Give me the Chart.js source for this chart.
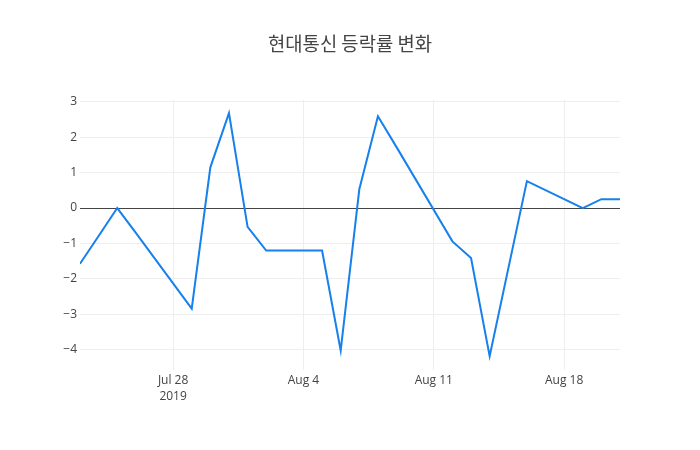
<!DOCTYPE html>
<html>
<head>
<meta charset="utf-8">
<script src="https://cdn.jsdelivr.net/npm/chart.js@4"></script>
<style>
  html, body { margin: 0; padding: 0; background: #fff; }
  #wrap { width: 700px; height: 450px; }
</style>
</head>
<body>
<div id="wrap"><canvas id="c" width="700" height="450"></canvas></div>
<script>
const dates = ['2019-07-23','2019-07-24','2019-07-25','2019-07-26','2019-07-29','2019-07-30','2019-07-31','2019-08-01','2019-08-02','2019-08-05','2019-08-06','2019-08-07','2019-08-08','2019-08-09','2019-08-12','2019-08-13','2019-08-14','2019-08-16','2019-08-19','2019-08-20','2019-08-21'];
const changeRates = [-1.57,-0.79,0.0,-0.70,-2.84,1.15,2.68,-0.53,-1.20,-1.20,-4.02,0.53,2.59,1.72,-0.94,-1.41,-4.18,0.76,0.0,0.25,0.25];
const xTickDates = ['2019-07-28','2019-08-04','2019-08-11','2019-08-18'];
const yTickValues = [-4,-3,-2,-1,0,1,2,3];
const titleText = '현대통신 등락률 변화';

const DAY = 86400000;
const toDay = s => Date.parse(s + 'T00:00:00Z') / DAY;
const MONTHS = ['Jan','Feb','Mar','Apr','May','Jun','Jul','Aug','Sep','Oct','Nov','Dec'];
const points = dates.map((d, i) => ({ x: toDay(d), y: changeRates[i] }));
const xTicks = xTickDates.map(toDay);

function fmtDay(v) {
  const d = new Date(Math.round(v) * DAY);
  return MONTHS[d.getUTCMonth()] + ' ' + d.getUTCDate();
}

new Chart(document.getElementById('c'), {
  type: 'line',
  data: {
    datasets: [{
      data: points,
      borderColor: 'rgb(22,128,236)',
      borderWidth: 2,
      pointRadius: 0,
      pointHoverRadius: 0,
      tension: 0,
      fill: false
    }]
  },
  options: {
    responsive: false,
    animation: false,
    layout: { padding: { left: 0, right: 80, top: 0, bottom: 0 } },
    plugins: {
      legend: { display: false },
      tooltip: { enabled: false },
      title: {
        display: true,
        fullSize: false,
        text: titleText,
        color: '#444',
        font: { family: '"Noto Sans CJK KR", "Open Sans", sans-serif', size: 18.8, weight: 'normal', lineHeight: 1.2 },
        padding: { top: 32.7, bottom: 44.74 }
      }
    },
    scales: {
      x: {
        type: 'linear',
        min: toDay(dates[0]),
        max: toDay(dates[dates.length - 1]),
        afterFit: s => { s.height = 80; },
        afterBuildTicks: s => { s.ticks = xTicks.map(v => ({ value: v })); },
        border: { display: false },
        grid: { color: '#eee', lineWidth: 1, drawTicks: false },
        ticks: {
          padding: 3,
          color: '#444',
          maxRotation: 0,
          autoSkip: false,
          font: { family: '"Open Sans", sans-serif', size: 12, lineHeight: 1.33 },
          callback: (v, i) => i === 0 ? [fmtDay(v), '2019'] : fmtDay(v)
        }
      },
      y: {
        type: 'linear',
        min: -4.57,
        max: 3.05,
        afterFit: s => { s.width = 80; },
        afterBuildTicks: s => { s.ticks = yTickValues.map(v => ({ value: v })); },
        border: { display: false },
        grid: {
          color: c => (c.tick && c.tick.value === 0) ? '#444' : '#eee',
          lineWidth: 1,
          drawTicks: false
        },
        ticks: {
          padding: 3,
          color: '#444',
          font: { family: '"Open Sans", sans-serif', size: 12 },
          callback: v => String(v).replace('-', '\u2212')
        }
      }
    }
  }
});
</script>
</body>
</html>
